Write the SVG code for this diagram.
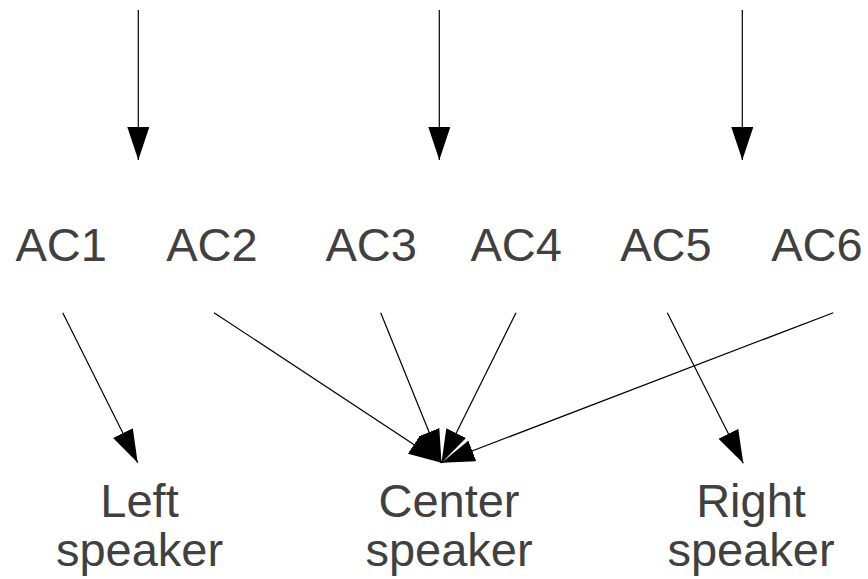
<svg xmlns="http://www.w3.org/2000/svg" width="868" height="579" viewBox="0 0 868 579">
  <style>
    .lbl { font-family: "Liberation Sans", Arial, sans-serif; font-size: 47px; fill: #404040; }
    .mid { text-anchor: middle; }
    .edge { stroke: #000; stroke-width: 1.2; fill: none; marker-end: url(#head); }
  </style>
  <defs>
    <marker id="head" viewBox="0 0 33 22" markerWidth="33" markerHeight="22" refX="33" refY="11" orient="auto" markerUnits="userSpaceOnUse">
      <path d="M0,0 L33,11 L0,22 Z" fill="#000"/>
    </marker>
  </defs>
  <rect width="868" height="579" fill="#fff"/>

  <g id="connectors">
    <line class="edge" x1="138.3" y1="10" x2="138.3" y2="160"/>
    <line class="edge" x1="439.3" y1="10" x2="439.3" y2="160"/>
    <line class="edge" x1="742.3" y1="10" x2="742.3" y2="160"/>
    <line class="edge" x1="62.7" y1="312.7" x2="137.7" y2="462.7"/>
    <line class="edge" x1="214" y1="312.7" x2="441.5" y2="462.7"/>
    <line class="edge" x1="380.7" y1="312.7" x2="441.5" y2="462.7"/>
    <line class="edge" x1="516" y1="312.7" x2="441.5" y2="462.7"/>
    <line class="edge" x1="833.3" y1="312.7" x2="441.5" y2="462.7"/>
    <line class="edge" x1="667.3" y1="312.7" x2="743.3" y2="463.3"/>
  </g>

  <g id="ac1"><text class="lbl" x="15.5" y="260.7">AC1</text></g>
  <g id="ac2"><text class="lbl" x="166.2" y="260.7">AC2</text></g>
  <g id="ac3"><text class="lbl" x="325.5" y="260.7">AC3</text></g>
  <g id="ac4"><text class="lbl" x="470.5" y="260.7">AC4</text></g>
  <g id="ac5"><text class="lbl" x="620.2" y="260.7">AC5</text></g>
  <g id="ac6"><text class="lbl" x="771.2" y="260.7">AC6</text></g>

  <g id="left-speaker">
    <text class="lbl mid" x="139.5" y="516.7">Left</text>
    <text class="lbl mid" x="139.5" y="566">speaker</text>
  </g>
  <g id="center-speaker">
    <text class="lbl mid" x="449" y="516.7">Center</text>
    <text class="lbl mid" x="449" y="566">speaker</text>
  </g>
  <g id="right-speaker">
    <text class="lbl mid" x="751" y="516.7">Right</text>
    <text class="lbl mid" x="751" y="566">speaker</text>
  </g>
</svg>
